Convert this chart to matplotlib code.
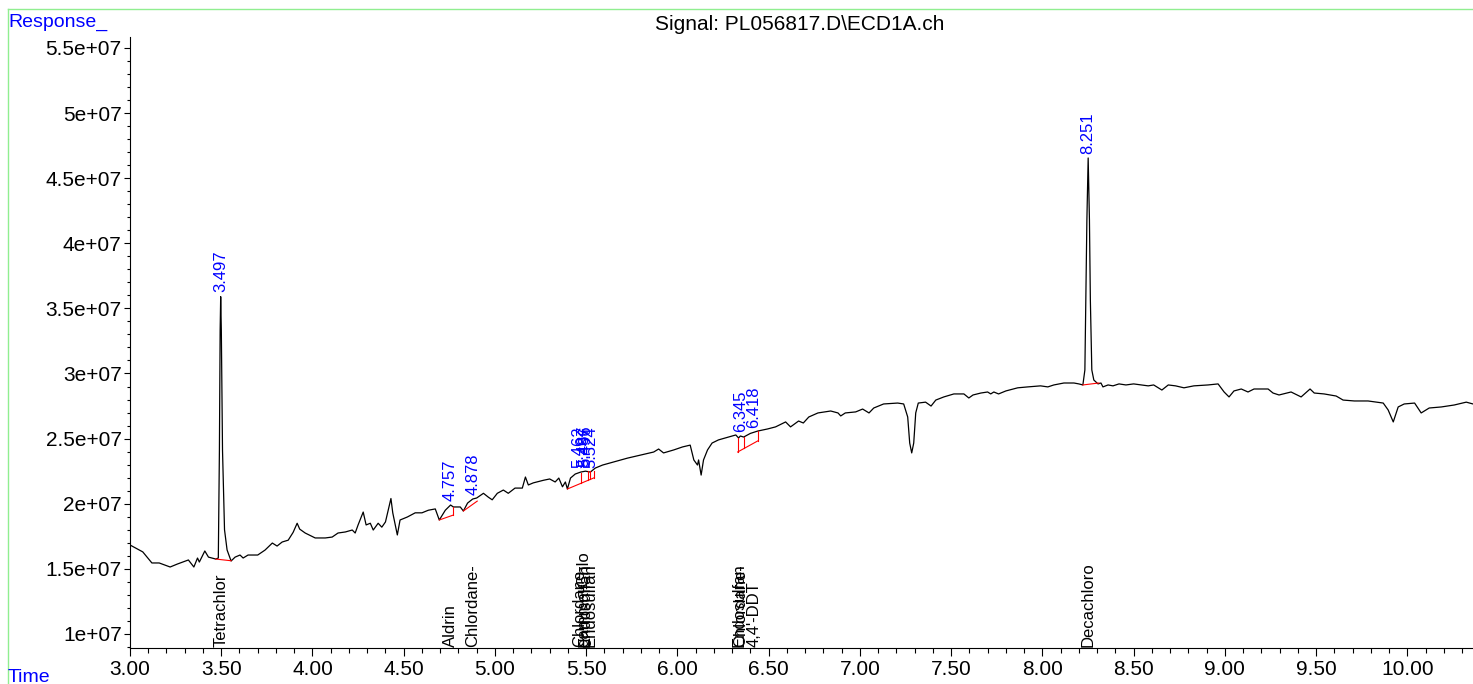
import matplotlib
matplotlib.use("Agg")
import matplotlib.pyplot as plt
from matplotlib.lines import Line2D
from matplotlib.ticker import MultipleLocator, FuncFormatter
import numpy as np

plt.rcParams['font.family'] = ['Liberation Sans', 'DejaVu Sans']

# chromatogram trace, time (min) and response (x 1e6)
time = [3.00, 3.03, 3.07, 3.12, 3.16, 3.22, 3.26, 3.32, 3.35, 3.37, 3.38, 3.41, 3.43, 3.47,
        3.484, 3.490, 3.494, 3.497, 3.5005, 3.507, 3.518, 3.532, 3.554, 3.576, 3.603, 3.62,
        3.647, 3.70, 3.74, 3.78, 3.806, 3.834, 3.867, 3.894, 3.916, 3.93, 3.96, 4.015, 4.07,
        4.108, 4.14, 4.18, 4.218, 4.234, 4.25, 4.278, 4.294, 4.317, 4.333, 4.36, 4.38, 4.40,
        4.415, 4.43, 4.44, 4.465, 4.48, 4.52, 4.563, 4.60, 4.635, 4.673, 4.695, 4.728, 4.757,
        4.772, 4.80, 4.81, 4.827, 4.85, 4.878, 4.90, 4.937, 4.964, 4.985, 5.013, 5.046, 5.073,
        5.11, 5.15, 5.167, 5.183, 5.21, 5.266, 5.30, 5.33, 5.35, 5.37, 5.386, 5.397, 5.414,
        5.44, 5.47, 5.496, 5.523, 5.55, 5.59, 5.65, 5.726, 5.80, 5.87, 5.897, 5.924, 5.98,
        6.028, 6.07, 6.09, 6.11, 6.116, 6.13, 6.143, 6.165, 6.19, 6.225, 6.275, 6.32, 6.335,
        6.345, 6.363, 6.40, 6.44, 6.494, 6.538, 6.593, 6.62, 6.664, 6.69, 6.72, 6.77, 6.84,
        6.88, 6.895, 6.92, 6.977, 7.015, 7.05, 7.076, 7.13, 7.207, 7.24, 7.262, 7.273, 7.284,
        7.295, 7.306, 7.32, 7.36, 7.39, 7.416, 7.46, 7.515, 7.57, 7.597, 7.62, 7.663, 7.70,
        7.717, 7.734, 7.76, 7.80, 7.865, 7.92, 7.99, 8.03, 8.063, 8.118, 8.173, 8.20, 8.222,
        8.233, 8.238, 8.244, 8.251, 8.258, 8.263, 8.271, 8.282, 8.305, 8.321, 8.332, 8.36,
        8.387, 8.42, 8.458, 8.50, 8.58, 8.61, 8.655, 8.69, 8.73, 8.776, 8.83, 8.908, 8.963,
        8.996, 9.023, 9.05, 9.09, 9.127, 9.16, 9.237, 9.264, 9.297, 9.363, 9.418, 9.467, 9.49,
        9.544, 9.61, 9.648, 9.71, 9.785, 9.868, 9.895, 9.923, 9.95, 9.983, 10.04, 10.076,
        10.12, 10.186, 10.257, 10.323, 10.36]
response = [16.83, 16.6, 16.3, 15.45, 15.45, 15.14, 15.37, 15.68, 15.14, 15.83, 15.52, 16.37, 15.9, 15.75,
            15.83, 24.1, 33.3, 35.9, 33.3, 24.1, 18.0, 16.45, 15.6, 15.9, 16.06, 15.83,
            16.06, 16.06, 16.44, 16.98, 16.75, 17.06, 17.2, 17.8, 18.5, 18.05, 17.75, 17.37, 17.37,
            17.44, 17.75, 17.83, 17.98, 17.75, 18.37, 19.36, 18.37, 18.5, 17.98, 18.5, 18.2, 18.6,
            19.5, 20.4, 19.3, 17.6, 18.75, 18.98, 19.3, 19.3, 19.5, 19.6, 18.75, 19.5, 19.9,
            19.75, 19.75, 19.75, 19.44, 20.05, 20.36, 20.44, 20.8, 20.5, 20.3, 20.8, 21.05, 20.8,
            21.2, 21.2, 22.05, 21.44, 21.6, 21.8, 21.9, 21.67, 21.97, 21.3, 21.67, 21.13, 21.97,
            22.28, 22.43, 22.5, 22.43, 22.74, 22.97, 23.2, 23.5, 23.74, 23.97, 24.2, 23.9, 24.13,
            24.36, 24.5, 23.36, 22.97, 23.36, 22.2, 23.36, 24.13, 24.66, 24.9, 25.1, 25.28, 25.05,
            25.2, 25.12, 25.4, 25.58, 25.74, 25.9, 26.28, 25.9, 26.35, 26.2, 26.66, 26.97, 27.12,
            26.97, 26.74, 26.97, 27.05, 27.27, 26.97, 27.35, 27.66, 27.73, 27.66, 26.66, 24.66, 23.9,
            24.66, 26.97, 27.73, 27.8, 27.5, 27.96, 28.2, 28.43, 28.43, 28.12, 28.35, 28.5, 28.58,
            28.43, 28.58, 28.43, 28.66, 28.9, 28.97, 29.05, 28.97, 29.12, 29.27, 29.27, 29.2, 29.12,
            30.27, 35.65, 41.79, 46.55, 41.79, 35.65, 30.27, 29.5, 29.2, 29.27, 28.97, 29.12,
            29.05, 29.2, 29.12, 29.2, 29.05, 29.12, 28.73, 29.12, 29.05, 28.9, 29.05, 29.12, 29.2,
            28.58, 28.2, 28.66, 28.81, 28.58, 28.81, 28.81, 28.5, 28.35, 28.58, 28.2, 28.81, 28.5,
            28.43, 28.27, 27.96, 27.89, 27.89, 27.73, 27.2, 26.28, 27.43, 27.66, 27.73, 26.97,
            27.35, 27.43, 27.58, 27.8, 27.66]

# integration baselines (start t, start r, end t, end r)
base_t0 = [3.470, 4.695, 4.827, 5.397, 6.330, 8.222]
base_r0 = [15.75, 18.75, 19.44, 21.13, 23.97, 29.12]
base_t1 = [3.554, 4.772, 4.903, 5.545, 6.440, 8.310]
base_r1 = [15.62, 19.13, 20.20, 22.00, 24.82, 29.27]

# drop lines between peaks
drop_t = [4.772, 5.472, 5.510, 5.519, 5.545, 6.330, 6.363, 6.440]
drop_lo = [19.13, 21.60, 21.82, 21.90, 22.00, 23.97, 24.28, 24.82]
drop_hi = [19.75, 22.36, 22.51, 22.51, 22.51, 25.05, 25.12, 25.58]

# retention time labels
rt = [3.497, 4.757, 4.878, 5.462, 5.487, 5.496, 5.524, 6.345, 6.418, 8.251]
rt_top = [35.9, 19.9, 20.36, 22.43, 22.5, 22.5, 22.43, 25.2, 25.5, 46.55]

# compound names
cmp_t = [3.497, 4.757, 4.878, 5.462, 5.487, 5.496, 5.524, 6.338, 6.345, 6.418, 8.251]
cmp_name = ["Tetrachlor", "Aldrin", "Chlordane-", "Chlordane-", "gamma-Chlo", "Endosulfan",
            "Endosulfan", "Endosulfan", "Chlordane-", "4,4'-DDT", "Decachloro"]

W, H = 1473, 684
fig = plt.figure(figsize=(W / 100, H / 100), dpi=100)
ax = fig.add_axes([130 / W, 36 / H, (W - 130) / W, 611 / H])

ax.plot(time, np.array(response) * 1e6, color="black", lw=0.9)

for i in range(len(base_t0)):
    ax.plot([base_t0[i], base_t1[i]], [base_r0[i] * 1e6, base_r1[i] * 1e6], color="red", lw=0.8)
for i in range(len(drop_t)):
    ax.plot([drop_t[i], drop_t[i]], [drop_lo[i] * 1e6, drop_hi[i] * 1e6], color="red", lw=0.8)

for i in range(len(rt)):
    ax.annotate(f"{rt[i]:.3f}", (rt[i], rt_top[i] * 1e6), xytext=(0, 3),
                textcoords="offset points", rotation=90, ha="center", va="bottom",
                color="blue", fontsize=12)

for i in range(len(cmp_t)):
    ax.annotate(cmp_name[i], (cmp_t[i], 0), xycoords=ax.get_xaxis_transform(),
                xytext=(0, 1), textcoords="offset points", rotation=90,
                ha="center", va="bottom", color="black", fontsize=12)

ax.set_xlim(3.0, 10.36)
ax.set_ylim(8.92e6, 55.84e6)
ax.spines["top"].set_visible(False)
ax.spines["right"].set_visible(False)
ax.xaxis.set_major_locator(MultipleLocator(0.5))
ax.xaxis.set_minor_locator(MultipleLocator(0.1))
ax.yaxis.set_major_locator(MultipleLocator(5e6))
ax.yaxis.set_minor_locator(MultipleLocator(1e6))
ax.xaxis.set_major_formatter(FuncFormatter(lambda v, p: f"{v:.2f}"))
ax.yaxis.set_major_formatter(FuncFormatter(lambda v, p: "%g" % v))
ax.tick_params(axis="x", which="major", length=5.5, width=0.8, labelsize=15, pad=3)
ax.tick_params(axis="x", which="minor", length=3.5, width=0.8)
ax.tick_params(axis="y", which="major", length=4, width=0.8, labelsize=15, pad=2)
ax.tick_params(axis="y", which="minor", length=2.5, width=0.8)

fig.text(800 / W, 1 - 25 / H, "Signal: PL056817.D\\ECD1A.ch", ha="center", va="center", fontsize=15)
fig.text(8 / W, 1 - 22 / H, "Response_", ha="left", va="center", fontsize=14, color="blue")
fig.text(8 / W, 1 - 677 / H, "Time", ha="left", va="center", fontsize=14, color="blue")

# green frame
fig.add_artist(Line2D([8 / W, 8 / W], [0, 1 - 9 / H], color="#90ee90", lw=1))
fig.add_artist(Line2D([8 / W, 1], [1 - 9 / H, 1 - 9 / H], color="#90ee90", lw=1))

fig.savefig("out.png", dpi=100)
